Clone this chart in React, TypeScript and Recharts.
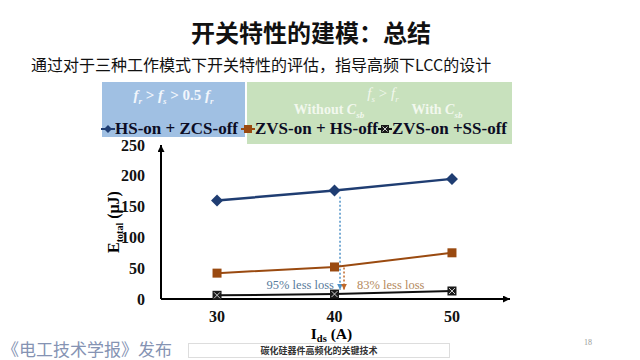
import React from 'react';
import { LineChart, Line, XAxis, YAxis, Legend, ReferenceLine, ReferenceDot } from 'recharts';

const currents = [30, 40, 50];
const hsOnZcsOff = [160, 176, 195];
const zvsOnHsOff = [42, 52, 75];
const zvsOnSsOff = [6, 8, 13];
const xTicks = [30, 40, 50];
const yTicks = [0, 50, 100, 150, 200, 250];
const seriesNames = ['HS-on + ZCS-off', 'ZVS-on + HS-off', 'ZVS-on +SS-off'];
const seriesColors = ['#1f3d72', '#9a4a10', '#111111'];
const annotations = ['95% less loss', '83% less loss'];

const data = currents.map((c, i) => ({
  ids: c,
  a: hsOnZcsOff[i],
  b: zvsOnHsOff[i],
  c: zvsOnSsOff[i],
}));

const serif = '"Liberation Serif", "Times New Roman", serif';
const cjk = '"Noto Sans CJK SC", sans-serif';

const Diamond = (props: any) => {
  const { cx, cy, index } = props;
  if (cx == null || cy == null) return <g key={`da-${index}`} />;
  const s = 6;
  return (
    <polygon
      key={`da-${index}`}
      points={`${cx},${cy - s} ${cx + s},${cy} ${cx},${cy + s} ${cx - s},${cy}`}
      fill={seriesColors[0]}
    />
  );
};

const Square = (props: any) => {
  const { cx, cy, index } = props;
  if (cx == null || cy == null) return <g key={`sq-${index}`} />;
  const s = 4.5;
  return <rect key={`sq-${index}`} x={cx - s} y={cy - s} width={2 * s} height={2 * s} fill={seriesColors[1]} />;
};

const XSquare = (props: any) => {
  const { cx, cy, index } = props;
  if (cx == null || cy == null) return <g key={`xs-${index}`} />;
  const s = 4.5;
  return (
    <g key={`xs-${index}`}>
      <rect x={cx - s} y={cy - s} width={2 * s} height={2 * s} fill="#1a1a1a" />
      <line x1={cx - 3} y1={cy - 3} x2={cx + 3} y2={cy + 3} stroke="#cfcfcf" strokeWidth={1} />
      <line x1={cx - 3} y1={cy + 3} x2={cx + 3} y2={cy - 3} stroke="#cfcfcf" strokeWidth={1} />
    </g>
  );
};

const legendLeft = [1, 141, 278];

const LegendIcon = ({ i }: { i: number }) => (
  <svg width={14} height={14} style={{ display: 'block' }}>
    <line x1={0} y1={7} x2={14} y2={7} stroke={seriesColors[i]} strokeWidth={2} />
    {i === 0 && <polygon points="7,3 11,7 7,11 3,7" fill={seriesColors[0]} />}
    {i === 1 && <rect x={3} y={3} width={8} height={8} fill={seriesColors[1]} />}
    {i === 2 && (
      <g>
        <rect x={3} y={3} width={8} height={8} fill="#1a1a1a" />
        <line x1={4.5} y1={4.5} x2={9.5} y2={9.5} stroke="#cfcfcf" strokeWidth={1} />
        <line x1={4.5} y1={9.5} x2={9.5} y2={4.5} stroke="#cfcfcf" strokeWidth={1} />
      </g>
    )}
  </svg>
);

const LegendContent = (props: any) => {
  const payload = props.payload || [];
  return (
    <div style={{ position: 'relative', width: 420, height: 16 }}>
      {payload.map((p: any, idx: number) => {
        const i = seriesNames.indexOf(p.value) >= 0 ? seriesNames.indexOf(p.value) : idx;
        return (
          <div
            key={`lg-${idx}`}
            style={{
              position: 'absolute',
              left: legendLeft[i],
              top: 0,
              height: 16,
              display: 'flex',
              alignItems: 'center',
              whiteSpace: 'nowrap',
            }}
          >
            <LegendIcon i={i} />
            <span style={{ fontFamily: serif, fontWeight: 700, fontSize: 17, color: '#0c0c24', lineHeight: '16px' }}>
              {p.value}
            </span>
          </div>
        );
      })}
    </div>
  );
};

const YLabel = (props: any) => {
  const vb = props.viewBox || { x: 0, y: 0, width: 0, height: 0 };
  const cx = vb.x + 17.5;
  const cy = vb.y + vb.height / 2;
  return (
    <text
      x={cx}
      y={cy}
      transform={`rotate(-90 ${cx} ${cy})`}
      textAnchor="middle"
      fontFamily={serif}
      fontWeight={700}
      fontSize={16}
      fill="#000"
    >
      <tspan>E</tspan>
      <tspan fontSize={10} dy={4}>total</tspan>
      <tspan dy={-4}> (μJ)</tspan>
    </text>
  );
};

const XLabel = (props: any) => {
  const vb = props.viewBox || { x: 0, y: 0, width: 0, height: 0 };
  const cx = vb.x + vb.width / 2 - 4;
  const y = vb.y + 40;
  return (
    <text x={cx} y={y} textAnchor="middle" fontFamily={serif} fontWeight={700} fontSize={15.5} fill="#000">
      <tspan>I</tspan>
      <tspan fontSize={10.5} dy={3}>ds</tspan>
      <tspan dy={-3}> (A)</tspan>
    </text>
  );
};

const tickStyle = { fontFamily: serif, fontWeight: 700, fontSize: 16, fill: '#111' };

export default function App() {
  return (
    <div style={{ position: 'absolute', left: 0, top: 0, width: 640, height: 360, background: '#fff', overflow: 'hidden' }}>
      <div
        style={{
          position: 'absolute', left: 0, top: 17, width: 622, textAlign: 'center',
          fontFamily: cjk, fontWeight: 'bold', fontSize: 24, lineHeight: '30px', color: '#111',
        }}
      >
        开关特性的建模：总结
      </div>
      <div
        style={{
          position: 'absolute', left: 31, top: 52, whiteSpace: 'nowrap',
          fontFamily: cjk, fontSize: 16, lineHeight: '24px', color: '#111',
        }}
      >
        通过对于三种工作模式下开关特性的评估，指导高频下LCC的设计
      </div>

      <div style={{ position: 'absolute', left: 102, top: 82, width: 143, height: 55, background: '#a0c0e3' }} />
      <div style={{ position: 'absolute', left: 247, top: 82, width: 265, height: 62, background: '#c8e1bd' }} />

      <div
        style={{
          position: 'absolute', left: 102, top: 85, width: 143, textAlign: 'center',
          fontFamily: serif, fontWeight: 700, fontSize: 15, lineHeight: '20px', color: '#f2f6fc', whiteSpace: 'nowrap',
        }}
      >
        <i>f</i><sub style={{ fontSize: 9, lineHeight: 0 }}><i>r</i></sub> &gt; <i>f</i><sub style={{ fontSize: 9, lineHeight: 0 }}><i>s</i></sub> &gt; 0.5 <i>f</i><sub style={{ fontSize: 9, lineHeight: 0 }}><i>r</i></sub>
      </div>
      <div
        style={{
          position: 'absolute', left: 343, top: 83, width: 80, textAlign: 'center',
          fontFamily: serif, fontSize: 15, lineHeight: '20px', color: '#f2f8ee', whiteSpace: 'nowrap',
        }}
      >
        <i>f</i><sub style={{ fontSize: 9, lineHeight: 0 }}><i>s</i></sub> &gt; <i>f</i><sub style={{ fontSize: 9, lineHeight: 0 }}><i>r</i></sub>
      </div>
      <div
        style={{
          position: 'absolute', left: 279, top: 100, width: 100, textAlign: 'center',
          fontFamily: serif, fontWeight: 700, fontSize: 14, lineHeight: '20px', color: '#f2f8ee', whiteSpace: 'nowrap',
        }}
      >
        Without <i>C</i><sub style={{ fontSize: 9, lineHeight: 0 }}><i>sb</i></sub>
      </div>
      <div
        style={{
          position: 'absolute', left: 397, top: 100, width: 80, textAlign: 'center',
          fontFamily: serif, fontWeight: 700, fontSize: 14, lineHeight: '20px', color: '#f2f8ee', whiteSpace: 'nowrap',
        }}
      >
        With <i>C</i><sub style={{ fontSize: 9, lineHeight: 0 }}><i>sb</i></sub>
      </div>

      <div style={{ position: 'absolute', left: 0, top: 0 }}>
        <LineChart width={640} height={360} data={data} margin={{ top: 145, right: 130, bottom: 31, left: 101 }}>
          <defs>
            <marker id="axArrow" viewBox="0 0 10 10" refX="10" refY="5" markerWidth="4" markerHeight="3.5" orient="auto-start-reverse">
              <path d="M0,0 L10,5 L0,10 z" fill="#000" />
            </marker>
            <marker id="blueArrow" viewBox="0 0 10 10" refX="10" refY="5" markerWidth="4" markerHeight="4" orient="auto">
              <path d="M0,0 L10,5 L0,10 z" fill="#4f93c8" />
            </marker>
            <marker id="orangeArrow" viewBox="0 0 10 10" refX="10" refY="5" markerWidth="4" markerHeight="4" orient="auto">
              <path d="M0,0 L10,5 L0,10 z" fill="#c0692a" />
            </marker>
          </defs>
          <XAxis
            dataKey="ids"
            type="number"
            domain={[25.23, 54.94]}
            ticks={xTicks}
            allowDataOverflow
            tickLine={false}
            tickMargin={6}
            axisLine={{ stroke: '#000', strokeWidth: 2, markerEnd: 'url(#axArrow)' } as any}
            tick={tickStyle}
            height={30}
            label={{ content: XLabel } as any}
          />
          <YAxis
            type="number"
            domain={[0, 250]}
            ticks={yTicks}
            tickLine={false}
            tickMargin={10}
            axisLine={{ stroke: '#000', strokeWidth: 2, markerStart: 'url(#axArrow)' } as any}
            tick={tickStyle}
            width={60}
            label={{ content: YLabel } as any}
          />
          <Legend
            layout="horizontal"
            verticalAlign="middle"
            align="center"
            content={LegendContent}
            wrapperStyle={{ position: 'absolute', left: 100, top: 121, width: 420, height: 16 }}
          />
          <ReferenceLine
            segment={[{ x: 40.47, y: 166 }, { x: 40.47, y: 15 }]}
            stroke="#4f93c8"
            strokeWidth={1.5}
            strokeDasharray="2 2"
            markerEnd="url(#blueArrow)"
            ifOverflow="visible"
          />
          <ReferenceLine
            segment={[{ x: 40.81, y: 51 }, { x: 40.81, y: 15 }]}
            stroke="#c0692a"
            strokeWidth={1.5}
            strokeDasharray="2 2"
            markerEnd="url(#orangeArrow)"
            ifOverflow="visible"
          />
          <ReferenceDot
            x={40.38}
            y={24}
            r={0}
            fill="none"
            stroke="none"
            ifOverflow="visible"
            label={{ value: annotations[0], position: 'left', offset: 5, fill: '#587b9b', fontSize: 12.5, fontFamily: serif }}
          />
          <ReferenceDot
            x={41.49}
            y={24}
            r={0}
            fill="none"
            stroke="none"
            ifOverflow="visible"
            label={{ value: annotations[1], position: 'right', offset: 5, fill: '#b48a60', fontSize: 12.5, fontFamily: serif }}
          />
          <Line dataKey="a" name={seriesNames[0]} stroke={seriesColors[0]} strokeWidth={2.5} dot={Diamond} isAnimationActive={false} />
          <Line dataKey="b" name={seriesNames[1]} stroke={seriesColors[1]} strokeWidth={2} dot={Square} isAnimationActive={false} />
          <Line dataKey="c" name={seriesNames[2]} stroke={seriesColors[2]} strokeWidth={2} dot={XSquare} isAnimationActive={false} />
        </LineChart>
      </div>

      <div
        style={{
          position: 'absolute', left: 2, top: 339, height: 20, whiteSpace: 'nowrap',
          fontFamily: cjk, fontSize: 17, lineHeight: '20px', color: '#8593b3',
        }}
      >
        《电工技术学报》发布
      </div>
      <div
        style={{
          position: 'absolute', left: 188, top: 343, width: 262, height: 15, boxSizing: 'border-box',
          border: '1px solid #dddddd', textAlign: 'center',
          fontFamily: cjk, fontSize: 9, lineHeight: '13px', color: '#333', fontWeight: 'bold',
        }}
      >
        碳化硅器件高频化的关键技术
      </div>
      <div style={{ position: 'absolute', left: 584, top: 338, fontFamily: serif, fontSize: 8, color: '#999' }}>18</div>
    </div>
  );
}
